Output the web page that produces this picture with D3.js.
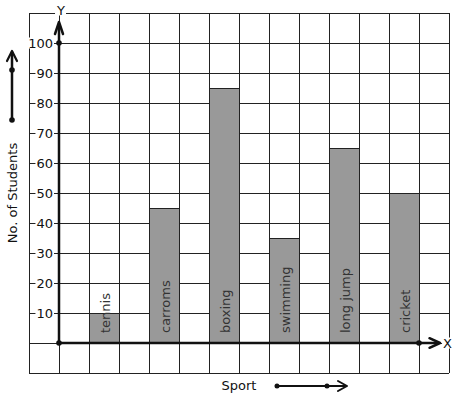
<!DOCTYPE html>
<html>
<head>
<meta charset="utf-8">
<script src="https://cdn.jsdelivr.net/npm/d3@7"></script>
<style>
  body { margin: 0; background: #fff; }
  svg text { font-family: "DejaVu Sans", sans-serif; }
</style>
</head>
<body>
<div id="chart"></div>
<script>
const sports = ["tennis", "carroms", "boxing", "swimming", "long jump", "cricket"];
const students = [10, 45, 85, 35, 65, 50];
const yTicks = [10, 20, 30, 40, 50, 60, 70, 80, 90, 100];

const width = 457, height = 399;
const ink = "#111";

const svg = d3.select("#chart").append("svg")
    .attr("width", width)
    .attr("height", height);

// grid is in units of cells: 30px per cell, axis origin one cell in
const x = d3.scaleLinear().domain([-1, 13]).range([29, 449]);
const y = d3.scaleLinear().domain([-10, 110]).range([373, 13]);

const band = d3.scaleBand()
    .domain(sports)
    .range([x(1), x(12)])
    .paddingInner(0.5)
    .paddingOuter(0);

// grid
const grid = svg.append("g").attr("stroke", "#222").attr("stroke-width", 1);
grid.selectAll("line.v")
    .data(d3.range(-1, 14))
    .join("line")
    .attr("class", "v")
    .attr("x1", d => x(d) + 0.5).attr("x2", d => x(d) + 0.5)
    .attr("y1", y(110)).attr("y2", y(-10));
grid.selectAll("line.h")
    .data(d3.range(-10, 120, 10))
    .join("line")
    .attr("class", "h")
    .attr("y1", d => y(d) + 0.5).attr("y2", d => y(d) + 0.5)
    .attr("x1", x(-1)).attr("x2", x(13));

// bars
svg.append("g")
    .selectAll("rect")
    .data(sports)
    .join("rect")
    .attr("x", d => band(d) + 0.5)
    .attr("y", (d, i) => y(students[i]) + 0.5)
    .attr("width", band.bandwidth())
    .attr("height", (d, i) => y(0) - y(students[i]))
    .attr("fill", "#999999")
    .attr("stroke", "#222")
    .attr("stroke-width", 1);

// bar labels (vertical)
svg.append("g")
    .selectAll("text")
    .data(sports)
    .join("text")
    .attr("transform", d => `translate(${band(d) + band.bandwidth() / 2 + 1},${y(0) - 10}) rotate(-90)`)
    .attr("dominant-baseline", "central")
    .attr("font-size", 13)
    .attr("fill", "#333")
    .text(d => d);

// y tick labels with white background
const tickG = svg.append("g");
yTicks.forEach(t => {
    const txt = tickG.append("text")
        .attr("x", x(-0.2))
        .attr("y", y(t))
        .attr("text-anchor", "end")
        .attr("dominant-baseline", "central")
        .attr("font-size", 13)
        .attr("fill", ink)
        .text(t);
    const b = txt.node().getBBox();
    tickG.insert("rect", "text")
        .attr("x", b.x - 1).attr("y", b.y + 2)
        .attr("width", b.width + 2).attr("height", b.height - 4)
        .attr("fill", "#fff");
});

// axes
const axes = svg.append("g")
    .attr("stroke", ink)
    .attr("stroke-width", 2.5)
    .attr("fill", "none")
    .attr("stroke-linecap", "round")
    .attr("stroke-linejoin", "round");

axes.append("line")
    .attr("x1", x(0)).attr("y1", y(0))
    .attr("x2", x(0)).attr("y2", y(106));
axes.append("path")
    .attr("d", `M${x(0) - 4},${y(103)} L${x(0)},${y(107)} L${x(0) + 4},${y(103)}`);

axes.append("line")
    .attr("x1", x(0)).attr("y1", y(0))
    .attr("x2", x(12.6)).attr("y2", y(0));
axes.append("path")
    .attr("d", `M${x(12.35)},${y(1.6)} L${x(12.7)},${y(0)} L${x(12.35)},${y(-1.6)}`);

const dots = [[0, 0], [0, 100], [12, 0]];
svg.append("g")
    .selectAll("circle")
    .data(dots)
    .join("circle")
    .attr("cx", d => x(d[0]))
    .attr("cy", d => y(d[1]))
    .attr("r", 2.8)
    .attr("fill", ink);

function axisLetter(label, lx, ly) {
    const t = svg.append("text")
        .attr("x", lx).attr("y", ly)
        .attr("text-anchor", "middle")
        .attr("dominant-baseline", "central")
        .attr("font-size", 13)
        .attr("fill", ink)
        .text(label);
    const b = t.node().getBBox();
    svg.insert("rect", () => t.node())
        .attr("x", b.x - 1).attr("y", b.y + 2)
        .attr("width", b.width + 2).attr("height", b.height - 4)
        .attr("fill", "#fff");
}
axisLetter("Y", x(0) + 2, 10);
axisLetter("X", x(12.95), y(0));

// side annotation: No. of Students with upward arrow
const ax = 12;
svg.append("line")
    .attr("x1", ax).attr("y1", 120).attr("x2", ax).attr("y2", 52)
    .attr("stroke", ink).attr("stroke-width", 2.5).attr("stroke-linecap", "round");
svg.append("path")
    .attr("d", `M${ax - 5},${61} L${ax},${51} L${ax + 5},${61}`)
    .attr("stroke", ink).attr("stroke-width", 2.2).attr("fill", "none")
    .attr("stroke-linejoin", "round").attr("stroke-linecap", "round");
svg.append("g").selectAll("circle")
    .data([70, 120])
    .join("circle")
    .attr("cx", ax).attr("cy", d => d).attr("r", 2.8).attr("fill", ink);
svg.append("text")
    .attr("transform", `translate(${ax},193) rotate(-90)`)
    .attr("text-anchor", "middle")
    .attr("dominant-baseline", "central")
    .attr("font-size", 13)
    .attr("fill", ink)
    .text("No. of Students");

// bottom annotation: Sport with right arrow
const sy = 386;
svg.append("text")
    .attr("x", 239).attr("y", sy - 1)
    .attr("text-anchor", "middle")
    .attr("dominant-baseline", "central")
    .attr("font-size", 13)
    .attr("fill", ink)
    .text("Sport");
svg.append("line")
    .attr("x1", 277).attr("y1", sy).attr("x2", 345).attr("y2", sy)
    .attr("stroke", ink).attr("stroke-width", 2).attr("stroke-linecap", "round");
svg.append("path")
    .attr("d", `M${338},${sy - 5} L${347},${sy} L${338},${sy + 5}`)
    .attr("stroke", ink).attr("stroke-width", 2).attr("fill", "none")
    .attr("stroke-linejoin", "round").attr("stroke-linecap", "round");
svg.append("g").selectAll("circle")
    .data([277, 327])
    .join("circle")
    .attr("cx", d => d).attr("cy", sy).attr("r", 2.5).attr("fill", ink);
</script>
</body>
</html>
